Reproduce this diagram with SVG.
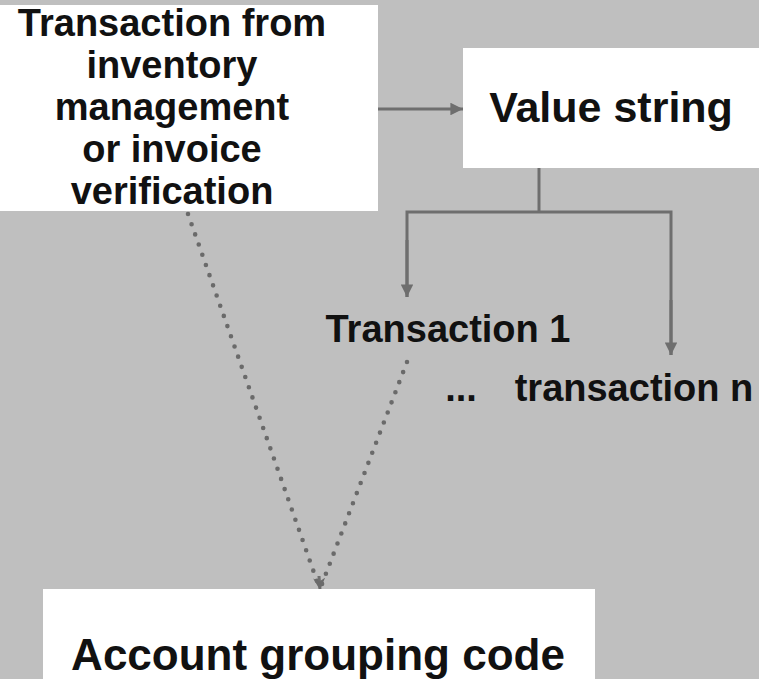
<svg xmlns="http://www.w3.org/2000/svg" width="759" height="679" viewBox="0 0 759 679">
<style>
.box{fill:#ffffff;}
.t{font-family:"Liberation Sans",Arial,sans-serif;font-weight:bold;fill:#111111;text-anchor:middle;}
.c{fill:none;stroke:#6e6e6e;stroke-width:3;}
.d{fill:none;stroke:#6a6a6a;stroke-width:4.6;stroke-linecap:round;stroke-dasharray:0 10.8;}
</style>
<defs>
<marker id="ah" viewBox="0 0 10 10" refX="10" refY="5" markerWidth="4.2" markerHeight="4.2" markerUnits="strokeWidth" orient="auto">
<path d="M0,0 L10,5 L0,10 z" fill="#6e6e6e"/>
</marker>
<marker id="ahd" viewBox="0 0 10 10" refX="10" refY="5" markerWidth="4" markerHeight="4" markerUnits="strokeWidth" orient="auto">
<path d="M0,0 L10,5 L0,10 L3,5 z" fill="#6a6a6a"/>
</marker>
</defs>
<rect width="759" height="679" fill="#bfbfbf"/>
<g id="connectors">
<line class="c" x1="378" y1="109" x2="463" y2="109" marker-end="url(#ah)"/>
<polyline class="c" points="539,168 539,212"/>
<polyline class="c" points="407,297 407,212 671,212 671,355"/>
<line class="c" x1="407" y1="240" x2="407" y2="297" marker-end="url(#ah)"/>
<line class="c" x1="671" y1="300" x2="671" y2="355" marker-end="url(#ah)"/>
<line class="d" x1="188" y1="214" x2="318" y2="584"/>
<line class="d" x1="407" y1="362" x2="322" y2="584"/>
<line class="c" x1="319" y1="576" x2="320" y2="590" marker-end="url(#ahd)"/>
</g>
<g id="node-source">
<rect class="box" x="-2" y="5" width="380" height="206"/>
<text class="t" font-size="38" x="172" y="36">Transaction from</text>
<text class="t" font-size="38" x="172" y="78">inventory</text>
<text class="t" font-size="38" x="172" y="120">management</text>
<text class="t" font-size="38" x="172" y="162">or invoice</text>
<text class="t" font-size="38" x="172" y="204">verification</text>
</g>
<g id="node-value-string">
<rect class="box" x="463" y="48" width="300" height="120"/>
<text class="t" font-size="43" x="611" y="122">Value string</text>
</g>
<g id="node-transaction-1">
<text class="t" font-size="38" x="448" y="342">Transaction 1</text>
</g>
<g id="node-transaction-n">
<text class="t" font-size="38" x="461" y="401">...</text>
<text class="t" font-size="38" x="634" y="401">transaction n</text>
</g>
<g id="node-account-grouping">
<rect class="box" x="43" y="589" width="552" height="95"/>
<text class="t" font-size="44" x="318" y="670">Account grouping code</text>
</g>
</svg>
